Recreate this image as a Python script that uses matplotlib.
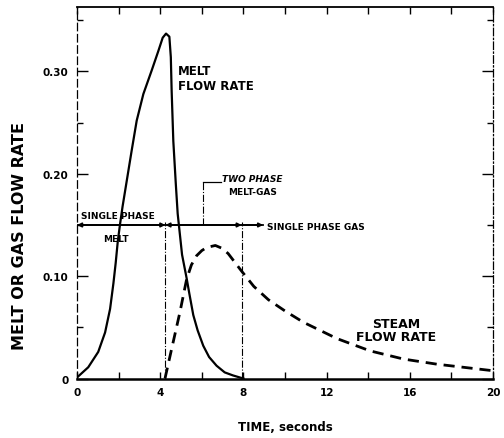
import numpy as np
import matplotlib
matplotlib.use("Agg")
import matplotlib.pyplot as plt
from matplotlib.ticker import MultipleLocator

plt.rcParams['font.family'] = ['DejaVu Sans']
plt.rcParams['font.weight'] = 'bold'

# melt flow rate (solid)
melt_t = [0, 0.54, 1.02, 1.35, 1.59, 1.75, 1.86, 1.96, 2.07, 2.19, 2.39, 2.63,
          2.87, 3.19, 3.59, 3.91, 4.12, 4.28, 4.44, 4.51, 4.55, 4.63, 4.75, 4.84,
          5.05, 5.27, 5.4, 5.59, 5.8, 6.07, 6.35, 6.71, 7.1, 7.5, 8.0]
melt_v = [0.001, 0.011, 0.026, 0.045, 0.068, 0.093, 0.113, 0.134, 0.151, 0.168, 0.193, 0.223,
          0.252, 0.278, 0.301, 0.320, 0.333, 0.337, 0.334, 0.314, 0.281, 0.232, 0.190, 0.161,
          0.121, 0.098, 0.083, 0.062, 0.047, 0.032, 0.021, 0.0125, 0.006, 0.003, 0]

# steam flow rate (dashed)
steam_t = [4.23, 4.55, 4.95, 5.27, 5.5, 5.75, 6.0, 6.23, 6.65, 7.0, 7.27, 7.91, 8.5, 9.2, 10.0,
           10.88, 12.5, 14.09, 15.7, 17.3, 20]
steam_v = [0, 0.029, 0.065, 0.097, 0.111, 0.120, 0.125, 0.128, 0.130, 0.127, 0.122, 0.105, 0.090,
           0.077, 0.066, 0.055, 0.039, 0.027, 0.019, 0.014, 0.0076]

x_ticks = [0, 4, 8, 12, 16, 20]
y_ticks = [0, 0.10, 0.20, 0.30]
y_tick_labels = ["0", "0.10", "0.20", "0.30"]

t_melt_end = 4.25    # end of single phase melt
t_gas_start = 7.92   # start of single phase gas
t_leader = 6.07
phase_level = 0.15

fig = plt.figure(figsize=(5.04, 4.39), dpi=100)
ax = fig.add_axes([0.1528, 0.1355, 0.8254, 0.8463])

ax.plot(melt_t, melt_v, color='black', lw=1.6)
ax.plot(steam_t, steam_v, color='black', lw=2.0, dashes=(4, 2.5))

# phase boundaries
ax.plot([t_melt_end, t_melt_end], [0, 0.153], color='black', lw=0.8, ls='-.')
ax.plot([t_gas_start, t_gas_start], [0, 0.153], color='black', lw=0.8, ls='-.')
ax.plot([0, 8.95], [phase_level, phase_level], color='black', lw=1.3)
arrow = dict(arrowstyle='<|-|>', mutation_scale=6, lw=1.3, color='black',
             shrinkA=0, shrinkB=0)
ax.annotate("", xy=(0, phase_level), xytext=(t_melt_end, phase_level), arrowprops=arrow)
ax.annotate("", xy=(t_melt_end, phase_level), xytext=(t_gas_start, phase_level), arrowprops=arrow)
ax.annotate("", xy=(t_gas_start, phase_level), xytext=(8.95, phase_level),
            arrowprops=dict(arrow, arrowstyle='<|-'))

# leader for two phase label
ax.plot([t_leader, t_leader], [phase_level, 0.192], color='black', lw=0.8, ls='-.')
ax.plot([t_leader, 6.9], [0.192, 0.192], color='black', lw=0.9)

ax.text(0.19, 0.159, "SINGLE PHASE", fontsize=6.5, va='center', ha='left')
ax.text(1.25, 0.137, "MELT", fontsize=6.5, va='center', ha='left')
ax.text(9.13, 0.1485, "SINGLE PHASE GAS", fontsize=6.5, va='center', ha='left')
ax.text(6.97, 0.195, "TWO PHASE", fontsize=6.5, va='center', ha='left', style='italic')
ax.text(7.26, 0.183, "MELT-GAS", fontsize=6.5, va='center', ha='left')
ax.text(4.86, 0.2935, "MELT\nFLOW RATE", fontsize=8.5, va='center', ha='left',
        linespacing=1.15)
ax.text(15.34, 0.0474, "STEAM\nFLOW RATE", fontsize=9, va='center', ha='center',
        linespacing=1.05)

ax.set_xlim(0, 20)
ax.set_ylim(0, 0.363)
ax.set_xticks(x_ticks)
ax.xaxis.set_minor_locator(MultipleLocator(2))
ax.set_yticks(y_ticks)
ax.set_yticklabels(y_tick_labels)
ax.yaxis.set_minor_locator(MultipleLocator(0.05))
ax.tick_params(which='both', direction='in', top=True, right=True,
               labelsize=7.5, width=1.0)
ax.tick_params(axis='x', which='both', length=5, pad=6)
ax.tick_params(axis='y', which='major', length=8, pad=6)
ax.tick_params(axis='y', which='minor', length=4)

ax.spines['left'].set_linestyle((0, (6, 3)))
ax.spines['left'].set_linewidth(0.9)
ax.spines['right'].set_linestyle((0, (6, 2, 1, 2)))
ax.spines['right'].set_linewidth(0.9)
ax.spines['top'].set_linewidth(1.3)
ax.spines['bottom'].set_linewidth(1.8)

ax.set_xlabel("TIME, seconds", fontsize=8.5, fontweight='bold', va='center')
ax.xaxis.set_label_coords(0.5, -0.129)
ax.set_ylabel("MELT OR GAS FLOW RATE", fontsize=11.5, fontweight='bold', va='center')
ax.yaxis.set_label_coords(-0.139, 0.387)

fig.savefig("out.png", dpi=100)
